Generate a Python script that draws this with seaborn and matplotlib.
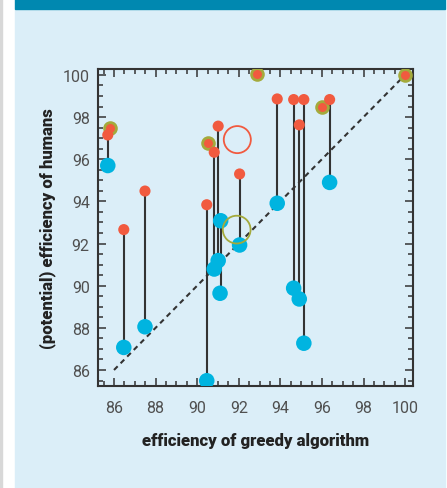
import matplotlib
matplotlib.use('Agg')
import matplotlib.pyplot as plt
import seaborn as sns
import pandas as pd
from matplotlib.patches import Rectangle
from matplotlib.ticker import MultipleLocator

# points
red_x = [85.7, 86.47, 87.49, 90.46, 90.82, 91.01, 92.04, 93.85, 94.64, 95.13, 94.91, 96.37]
red_y = [97.15, 92.66, 94.49, 93.84, 96.33, 97.57, 95.3, 98.86, 98.83, 98.83, 97.63, 98.83]

ring_x = [85.8, 90.53, 92.86, 95.98, 100.0]
ring_y = [97.47, 96.77, 100.05, 98.5, 100.0]

blue_x = [85.7, 86.47, 87.49, 90.46, 90.82, 91.01, 91.13, 91.1, 92.04, 93.85, 94.64, 95.13, 94.91, 96.37]
blue_y = [95.7, 87.07, 88.05, 85.49, 90.79, 91.19, 93.08, 89.64, 91.93, 93.91, 89.88, 87.27, 89.37, 94.9]

# vertical connectors
seg_x = [85.7, 86.47, 87.49, 90.46, 90.82, 91.01, 91.13, 92.04, 93.85, 94.64, 95.13, 94.91, 96.37]
seg_top = [97.15, 92.66, 94.49, 93.84, 96.33, 97.57, 93.08, 95.3, 98.86, 98.83, 98.83, 97.63, 98.83]
seg_bottom = [95.7, 87.07, 88.05, 85.49, 90.79, 91.19, 89.64, 91.93, 93.91, 89.88, 87.27, 89.37, 94.9]

# open circles
open_red = (91.93, 96.93)
open_green = (91.9, 92.66)

bg = '#dbeef8'
red = '#f15a3f'
blue = '#00b4e0'
olive = '#a4aa3c'
dark = '#333333'

sns.set_style('ticks')
plt.rcParams['font.family'] = ['Roboto', 'DejaVu Sans']

fig = plt.figure(figsize=(4.47, 4.89), dpi=100)
fig.patch.set_facecolor('white')
fig.patches.append(Rectangle((15 / 447, 0), 430 / 447, 1 - 10 / 489, transform=fig.transFigure,
                             color=bg, zorder=-10))
fig.patches.append(Rectangle((15 / 447, 1 - 10 / 489), 430 / 447, 10 / 489, transform=fig.transFigure,
                             color='#0088b0', zorder=-10))
fig.patches.append(Rectangle((0, 0), 2 / 447, 1, transform=fig.transFigure, color='#d8d8d8', zorder=-10))

ax = fig.add_axes([98 / 447, 1 - 387 / 489, 315 / 447, 317 / 489])
ax.set_facecolor(bg)

ax.plot([86, 100], [86, 100], ls=(0, (2.5, 2)), color=dark, lw=1.5, zorder=1)
ax.vlines(seg_x, seg_bottom, seg_top, color=dark, lw=1.5, zorder=2)

sns.scatterplot(data=pd.DataFrame({'x': blue_x, 'y': blue_y}), x='x', y='y', ax=ax,
                s=125, color=blue, edgecolor='none', zorder=3)
sns.scatterplot(data=pd.DataFrame({'x': ring_x, 'y': ring_y}), x='x', y='y', ax=ax,
                s=72, color=red, edgecolor=olive, linewidth=2, zorder=4)
sns.scatterplot(data=pd.DataFrame({'x': red_x, 'y': red_y}), x='x', y='y', ax=ax,
                s=64, color=red, edgecolor='none', zorder=5)
ax.scatter([open_red[0]], [open_red[1]], s=380, facecolor='none', edgecolor=red, linewidth=1.3, zorder=6)
ax.scatter([open_green[0]], [open_green[1]], s=400, facecolor='none', edgecolor=olive, linewidth=1.3, zorder=6)

ax.set_xlim(85.23, 100.38)
ax.set_ylim(85.24, 100.28)
ax.xaxis.set_minor_locator(MultipleLocator(0.5))
ax.yaxis.set_minor_locator(MultipleLocator(0.5))
ax.set_xticks(range(86, 101, 2))
ax.set_yticks(range(86, 101, 2))

for s in ax.spines.values():
    s.set_visible(True)
    s.set_color(dark)
    s.set_linewidth(1.5)
ax.tick_params(which='both', direction='in', top=True, right=True, color=dark, width=1.1)
ax.tick_params(which='major', length=6)
ax.tick_params(which='minor', length=3.5)
ax.tick_params(axis='x', which='major', pad=10, labelsize=11.5, labelcolor='#505050')
ax.tick_params(axis='y', which='major', pad=6, labelsize=11.5, labelcolor='#505050')

ax.set_xlabel('efficiency of greedy algorithm', fontsize=12, fontweight='heavy', color='#222222', labelpad=12)
ax.set_ylabel('(potential) efficiency of humans', fontsize=12, fontweight='heavy', color='#222222', labelpad=5)

fig.savefig('out.png', dpi=100, facecolor=fig.get_facecolor())
